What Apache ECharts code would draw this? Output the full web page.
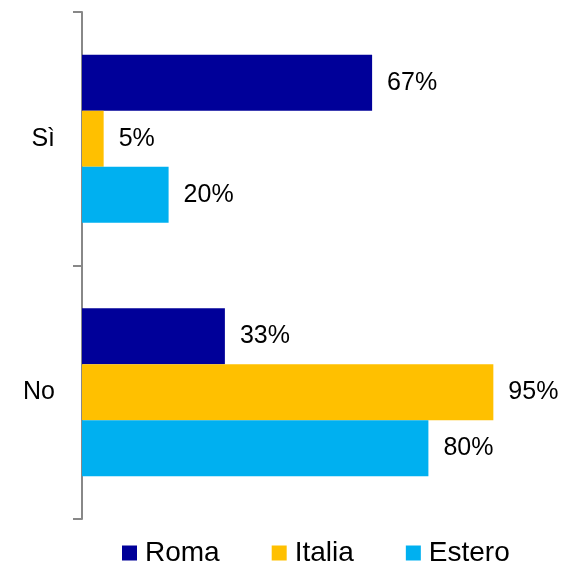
<!DOCTYPE html>
<html>
<head>
<meta charset="utf-8">
<script src="https://cdn.jsdelivr.net/npm/echarts@6/dist/echarts.min.js"></script>
<style>
  html, body { margin: 0; padding: 0; background: #fff; }
  #main { width: 564px; height: 563px; }
</style>
</head>
<body>
<div id="main"></div>
<script>
var categories = ['Sì', 'No'];
var roma = [67, 33];
var italia = [5, 95];
var estero = [20, 80];

var chart = echarts.init(document.getElementById('main'));

function barSeries(name, data, color) {
  return {
    name: name,
    type: 'bar',
    data: data,
    barGap: '0%',
    barCategoryGap: '33.7%',
    itemStyle: { color: color },
    label: {
      show: true,
      position: 'right',
      distance: 15,
      formatter: '{c}%',
      color: '#000',
      fontSize: 25,
      fontFamily: 'Liberation Sans'
    }
  };
}

var option = {
  animation: false,
  textStyle: { fontFamily: 'Liberation Sans' },
  grid: { left: 82, right: 49, top: 12, bottom: 44 },
  legend: {
    left: 117,
    top: 534,
    icon: 'rect',
    itemWidth: 15,
    itemHeight: 15,
    itemGap: 52,
    textStyle: { fontSize: 28, color: '#000', fontFamily: 'Liberation Sans', padding: [0, 0, 0, 3] },
    data: ['Roma', 'Italia', 'Estero']
  },
  xAxis: { type: 'value', min: 0, max: 100, show: false },
  yAxis: {
    type: 'category',
    inverse: true,
    data: categories,
    axisLine: { lineStyle: { color: '#888', width: 2 } },
    axisTick: { show: true, length: 9, lineStyle: { color: '#888', width: 2 } },
    axisLabel: { fontSize: 25, color: '#000', margin: 27, fontFamily: 'Liberation Sans' }
  },
  series: [
    barSeries('Roma', roma, '#000099'),
    barSeries('Italia', italia, '#FFC000'),
    barSeries('Estero', estero, '#00B0F0')
  ]
};

chart.setOption(option);
</script>
</body>
</html>
